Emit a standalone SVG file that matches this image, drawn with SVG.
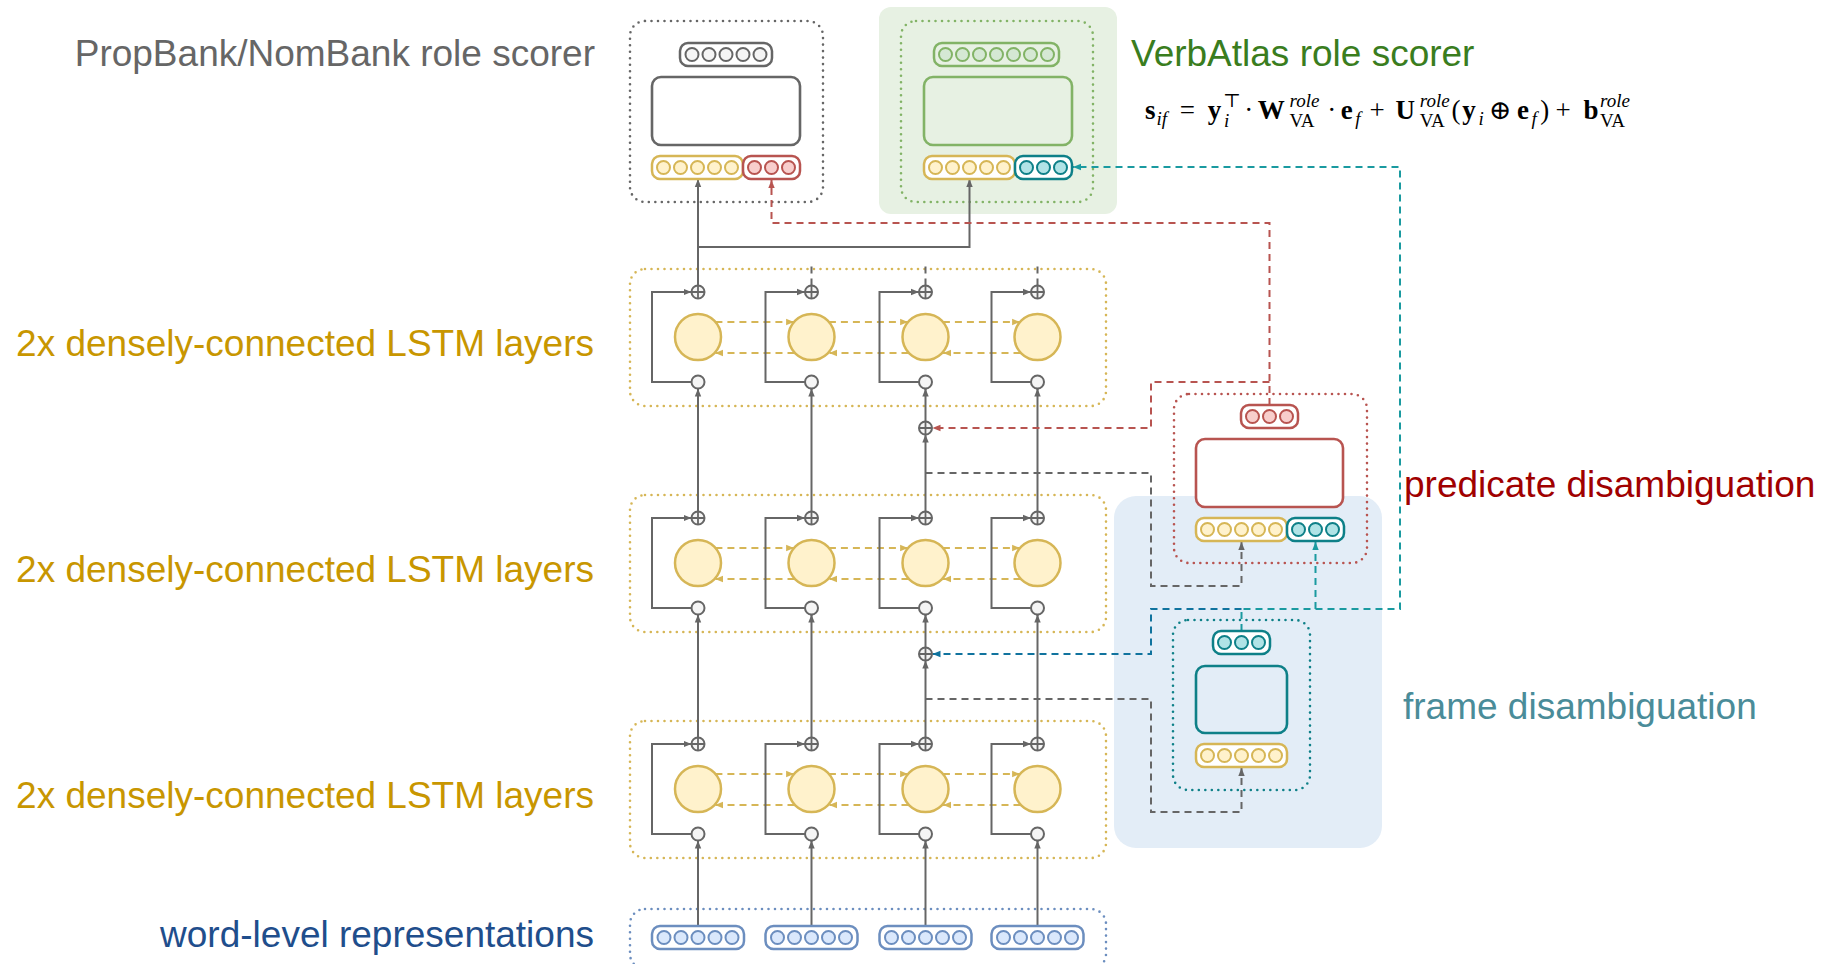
<svg xmlns="http://www.w3.org/2000/svg" xmlns:xlink="http://www.w3.org/1999/xlink" width="1825" height="964" viewBox="0 0 1825 964">
<style>
.lbl{font-family:"Liberation Sans",Arial,sans-serif;font-size:37px}
.dot{fill:none;stroke-width:2.6;stroke-dasharray:0 6.5;stroke-linecap:round}
.vr{stroke-width:2.5}
.big{stroke-width:2.6}
.c{fill:none;stroke:#666;stroke-width:2;marker-end:url(#ag)}
.gd{fill:none;stroke:#666;stroke-width:2;stroke-dasharray:7 5}
.yd{fill:none;stroke:#d6b656;stroke-width:2;stroke-dasharray:7 5;marker-end:url(#ay)}
.rd{fill:none;stroke:#b85450;stroke-width:2;stroke-dasharray:7 5}
.td{fill:none;stroke:#1a9aa0;stroke-width:2;stroke-dasharray:7 5}
.bd{fill:none;stroke:#10739e;stroke-width:2;stroke-dasharray:7 5}
.lstm{fill:#fff2cc;stroke:#d6b656;stroke-width:2.5}
.sc{fill:#f5f5f5;stroke:#666;stroke-width:2}
.cy{fill:#fff2cc;stroke:#d6b656;stroke-width:2}
.cr{fill:#f8cecc;stroke:#b85450;stroke-width:2}
.ct{fill:#b0e3e6;stroke:#0e8088;stroke-width:2}
.cg{fill:#f5f5f5;stroke:#666;stroke-width:2}
.cgr{fill:#d5e8d4;stroke:#82b366;stroke-width:2}
.cb{fill:#dae8fc;stroke:#6c8ebf;stroke-width:2}
.f{font-family:"Liberation Serif","DejaVu Serif",serif;font-size:27px;fill:#000}
.b{font-weight:bold}
.s{font-size:19px}
.i{font-style:italic}
</style>
<defs>
<marker id="ag" viewBox="0 0 10 10" refX="10" refY="5" markerWidth="8" markerHeight="8" markerUnits="userSpaceOnUse" orient="auto"><path d="M0,1L10,5L0,9z" fill="#666"/></marker>
<marker id="ay" viewBox="0 0 10 10" refX="10" refY="5" markerWidth="8" markerHeight="8" markerUnits="userSpaceOnUse" orient="auto"><path d="M0,1L10,5L0,9z" fill="#d6b656"/></marker>
<marker id="ar" viewBox="0 0 10 10" refX="10" refY="5" markerWidth="8" markerHeight="8" markerUnits="userSpaceOnUse" orient="auto"><path d="M0,1L10,5L0,9z" fill="#b85450"/></marker>
<marker id="at" viewBox="0 0 10 10" refX="10" refY="5" markerWidth="8" markerHeight="8" markerUnits="userSpaceOnUse" orient="auto"><path d="M0,1L10,5L0,9z" fill="#1a9aa0"/></marker>
<marker id="ab" viewBox="0 0 10 10" refX="10" refY="5" markerWidth="8" markerHeight="8" markerUnits="userSpaceOnUse" orient="auto"><path d="M0,1L10,5L0,9z" fill="#10739e"/></marker>
<g id="op"><circle r="6.5" fill="#f5f5f5" stroke="#666" stroke-width="2"/><path d="M-6.5,0H6.5M0,-6.5V6.5" stroke="#666" stroke-width="1.8"/></g>
<g id="v5y"><rect x="0" y="0" width="91" height="23" rx="8" fill="#fff" stroke="#d6b656" class="vr"/><circle cx="11.5" cy="11.5" r="6.5" class="cy"/><circle cx="28.5" cy="11.5" r="6.5" class="cy"/><circle cx="45.5" cy="11.5" r="6.5" class="cy"/><circle cx="62.5" cy="11.5" r="6.5" class="cy"/><circle cx="79.5" cy="11.5" r="6.5" class="cy"/></g>
<g id="v5b"><rect x="0" y="0" width="92" height="23" rx="8" fill="#fff" stroke="#6c8ebf" class="vr"/><circle cx="12" cy="11.5" r="6.5" class="cb"/><circle cx="29" cy="11.5" r="6.5" class="cb"/><circle cx="46" cy="11.5" r="6.5" class="cb"/><circle cx="63" cy="11.5" r="6.5" class="cb"/><circle cx="80" cy="11.5" r="6.5" class="cb"/></g>
<g id="v3r"><rect x="0" y="0" width="57" height="23" rx="8" fill="#fff" stroke="#b85450" class="vr"/><circle cx="11.5" cy="11.5" r="6.5" class="cr"/><circle cx="28.5" cy="11.5" r="6.5" class="cr"/><circle cx="45.5" cy="11.5" r="6.5" class="cr"/></g>
<g id="v3t"><rect x="0" y="0" width="57" height="23" rx="8" fill="#fff" stroke="#0e8088" class="vr"/><circle cx="11.5" cy="11.5" r="6.5" class="ct"/><circle cx="28.5" cy="11.5" r="6.5" class="ct"/><circle cx="45.5" cy="11.5" r="6.5" class="ct"/></g>
<g id="cell"><path class="c" d="M0,-51.5V-37"/><path class="c" d="M0,-100V-84.5"/><path class="c" d="M-6.5,-45H-46V-135H-6.5"/><circle cx="0" cy="-90" r="23" class="lstm"/><circle cx="0" cy="-45" r="6.5" class="sc"/><use xlink:href="#op" x="0" y="-135"/></g>
</defs>

<!-- backgrounds -->
<rect id="verbatlas-bg" x="879" y="7" width="238" height="207" rx="12" fill="#e7f1e3"/>
<rect id="frame-bg" x="1114" y="496" width="268" height="352" rx="22" fill="#e3edf7"/>

<!-- labels -->
<g id="labels">
<text class="lbl" x="595" y="66" text-anchor="end" fill="#666">PropBank/NomBank role scorer</text>
<text class="lbl" x="1131" y="66" fill="#3a7d1e">VerbAtlas role scorer</text>
<text class="lbl" x="594" y="356" text-anchor="end" fill="#c89600">2x densely-connected LSTM layers</text>
<text class="lbl" x="594" y="582" text-anchor="end" fill="#c89600">2x densely-connected LSTM layers</text>
<text class="lbl" x="594" y="808" text-anchor="end" fill="#c89600">2x densely-connected LSTM layers</text>
<text class="lbl" x="594" y="947" text-anchor="end" fill="#1f4e8c">word-level representations</text>
<text class="lbl" x="1404" y="497" fill="#a00000">predicate disambiguation</text>
<text class="lbl" x="1403" y="719" fill="#4a8c99">frame disambiguation</text>
</g>

<!-- formula -->
<g id="formula" class="f">
<text x="1145" y="119" class="b">s</text>
<text x="1156.6" y="125" class="s i">if</text>
<text x="1179.7" y="119">=</text>
<text x="1207.7" y="119" class="b">y</text>
<text x="1223.1" y="107" class="s">⊤</text>
<text x="1224" y="127" class="s i">i</text>
<text x="1244.3" y="119">·</text>
<text x="1257.8" y="119" class="b">W</text>
<text x="1289.6" y="107" class="s i">role</text>
<text x="1289.6" y="127" class="s">VA</text>
<text x="1327.2" y="119">·</text>
<text x="1340.7" y="119" class="b">e</text>
<text x="1355.2" y="125" class="s i">f</text>
<text x="1369.6" y="119">+</text>
<text x="1395.6" y="119" class="b">U</text>
<text x="1419.7" y="107" class="s i">role</text>
<text x="1419.7" y="127" class="s">VA</text>
<text x="1451.6" y="119">(</text>
<text x="1462.2" y="119" class="b">y</text>
<text x="1478.5" y="125" class="s i">i</text>
<text x="1489.1" y="119">⊕</text>
<text x="1517.1" y="119" class="b">e</text>
<text x="1531.5" y="125" class="s i">f</text>
<text x="1540.2" y="119">)</text>
<text x="1555.6" y="119">+</text>
<text x="1583.6" y="119" class="b">b</text>
<text x="1600" y="107" class="s i">role</text>
<text x="1600" y="127" class="s">VA</text>
</g>

<!-- dotted container boxes -->
<g id="containers">
<rect id="propbank-box" x="630" y="21" width="193" height="181" rx="15" class="dot" stroke="#666"/>
<rect id="verbatlas-box" x="901" y="21" width="192" height="181" rx="15" class="dot" stroke="#82b366"/>
<rect id="lstm1-box" x="630" y="269" width="476" height="137" rx="15" class="dot" stroke="#d6b656"/>
<rect id="lstm2-box" x="630" y="495" width="476" height="137" rx="15" class="dot" stroke="#d6b656"/>
<rect id="lstm3-box" x="630" y="721" width="476" height="137" rx="15" class="dot" stroke="#d6b656"/>
<rect id="word-box" x="630" y="909" width="476" height="60" rx="15" class="dot" stroke="#6c8ebf"/>
<rect id="predicate-box" x="1174" y="394" width="193" height="169" rx="15" class="dot" stroke="#b85450"/>
<rect id="frame-box" x="1173" y="620" width="137" height="170" rx="15" class="dot" stroke="#0e8088"/>
</g>

<!-- connectors -->
<g id="connectors">
<path class="c" d="M698,926V840.5"/>
<path class="c" d="M811.5,926V840.5"/>
<path class="c" d="M925.5,926V840.5"/>
<path class="c" d="M1037.5,926V840.5"/>
<path class="c" d="M698,737.5V614.5"/>
<path class="c" d="M811.5,737.5V614.5"/>
<path class="c" d="M925.5,737.5V660.5"/>
<path class="c" d="M925.5,647.5V614.5"/>
<path class="c" d="M1037.5,737.5V614.5"/>
<path class="c" d="M698,511.5V388.5"/>
<path class="c" d="M811.5,511.5V388.5"/>
<path class="c" d="M925.5,511.5V434.5"/>
<path class="c" d="M925.5,421.5V388.5"/>
<path class="c" d="M1037.5,511.5V388.5"/>
<path class="c" d="M698,285.5V179"/>
<path class="c" d="M698,247H969.5V179"/>
<path class="gd" d="M811.5,285.5V262"/>
<path class="gd" d="M925.5,285.5V262"/>
<path class="gd" d="M1037.5,285.5V262"/>
<path class="yd" d="M715.4,322H794.1"/>
<path class="yd" d="M828.9,322H908.1"/>
<path class="yd" d="M942.9,322H1020.1"/>
<path class="yd" d="M794.5,353H715"/>
<path class="yd" d="M908.5,353H829"/>
<path class="yd" d="M1020.5,353H943"/>
<path class="yd" d="M715.4,548H794.1"/>
<path class="yd" d="M828.9,548H908.1"/>
<path class="yd" d="M942.9,548H1020.1"/>
<path class="yd" d="M794.5,579H715"/>
<path class="yd" d="M908.5,579H829"/>
<path class="yd" d="M1020.5,579H943"/>
<path class="yd" d="M715.4,774H794.1"/>
<path class="yd" d="M828.9,774H908.1"/>
<path class="yd" d="M942.9,774H1020.1"/>
<path class="yd" d="M794.5,805H715"/>
<path class="yd" d="M908.5,805H829"/>
<path class="yd" d="M1020.5,805H943"/>
<path class="gd" d="M925.5,473H1151V586H1241.5V542" marker-end="url(#ag)"/>
<path class="gd" d="M925.5,699H1151V812H1241.5V768" marker-end="url(#ag)"/>
<path class="rd" d="M1269.5,405V223H771.5V180" marker-end="url(#ar)"/>
<path class="rd" d="M1269.5,382H1151V428H932.5" marker-end="url(#ar)"/>
<path class="td" d="M1241.5,631V609H1400V167H1073" marker-end="url(#at)"/>
<path class="td" d="M1315.5,609V542" marker-end="url(#at)"/>
<path class="bd" d="M1241.5,609H1151V654H932.5" marker-end="url(#ab)"/>
</g>

<!-- PropBank/NomBank role scorer -->
<g id="propbank-scorer">
<rect x="680" y="43" width="92" height="23" rx="8" fill="#fff" stroke="#666" class="vr"/>
<circle cx="692" cy="54.5" r="6.5" class="cg"/><circle cx="709" cy="54.5" r="6.5" class="cg"/><circle cx="726" cy="54.5" r="6.5" class="cg"/><circle cx="743" cy="54.5" r="6.5" class="cg"/><circle cx="760" cy="54.5" r="6.5" class="cg"/>
<rect x="652" y="77" width="148" height="68" rx="9" fill="#fff" stroke="#666" class="big"/>
<use xlink:href="#v5y" x="652" y="156"/>
<use xlink:href="#v3r" x="743" y="156"/>
</g>

<!-- VerbAtlas role scorer -->
<g id="verbatlas-scorer">
<rect x="934" y="43" width="125" height="23" rx="8" fill="#e7f1e3" stroke="#82b366" class="vr"/>
<circle cx="945.5" cy="54.5" r="6.5" class="cgr"/><circle cx="962.5" cy="54.5" r="6.5" class="cgr"/><circle cx="979.5" cy="54.5" r="6.5" class="cgr"/><circle cx="996.5" cy="54.5" r="6.5" class="cgr"/><circle cx="1013.5" cy="54.5" r="6.5" class="cgr"/><circle cx="1030.5" cy="54.5" r="6.5" class="cgr"/><circle cx="1047.5" cy="54.5" r="6.5" class="cgr"/>
<rect x="924" y="77" width="148" height="68" rx="9" fill="none" stroke="#82b366" class="big"/>
<use xlink:href="#v5y" x="924" y="156"/>
<use xlink:href="#v3t" x="1015" y="156"/>
</g>

<!-- predicate disambiguation -->
<g id="predicate-disambiguation">
<use xlink:href="#v3r" x="1241" y="405"/>
<rect x="1196" y="439" width="147" height="68" rx="9" fill="#fff" stroke="#b85450" class="big"/>
<use xlink:href="#v5y" x="1196" y="518"/>
<use xlink:href="#v3t" x="1287" y="518"/>
</g>

<!-- frame disambiguation -->
<g id="frame-disambiguation">
<use xlink:href="#v3t" x="1213" y="631"/>
<rect x="1196" y="666" width="91" height="67" rx="9" fill="none" stroke="#0e8088" class="big"/>
<use xlink:href="#v5y" x="1196" y="744"/>
</g>

<!-- LSTM layers -->
<g id="lstm-layer1">
<use xlink:href="#cell" x="698" y="427"/>
<use xlink:href="#cell" x="811.5" y="427"/>
<use xlink:href="#cell" x="925.5" y="427"/>
<use xlink:href="#cell" x="1037.5" y="427"/>
</g>
<g id="lstm-layer2">
<use xlink:href="#cell" x="698" y="653"/>
<use xlink:href="#cell" x="811.5" y="653"/>
<use xlink:href="#cell" x="925.5" y="653"/>
<use xlink:href="#cell" x="1037.5" y="653"/>
</g>
<g id="lstm-layer3">
<use xlink:href="#cell" x="698" y="879"/>
<use xlink:href="#cell" x="811.5" y="879"/>
<use xlink:href="#cell" x="925.5" y="879"/>
<use xlink:href="#cell" x="1037.5" y="879"/>
</g>
<g id="injection-points">
<use xlink:href="#op" x="925.5" y="428"/>
<use xlink:href="#op" x="925.5" y="654"/>
</g>

<!-- word-level representations -->
<g id="word-representations">
<use xlink:href="#v5b" x="652" y="926"/>
<use xlink:href="#v5b" x="765.5" y="926"/>
<use xlink:href="#v5b" x="879.5" y="926"/>
<use xlink:href="#v5b" x="991.5" y="926"/>
</g>
</svg>
